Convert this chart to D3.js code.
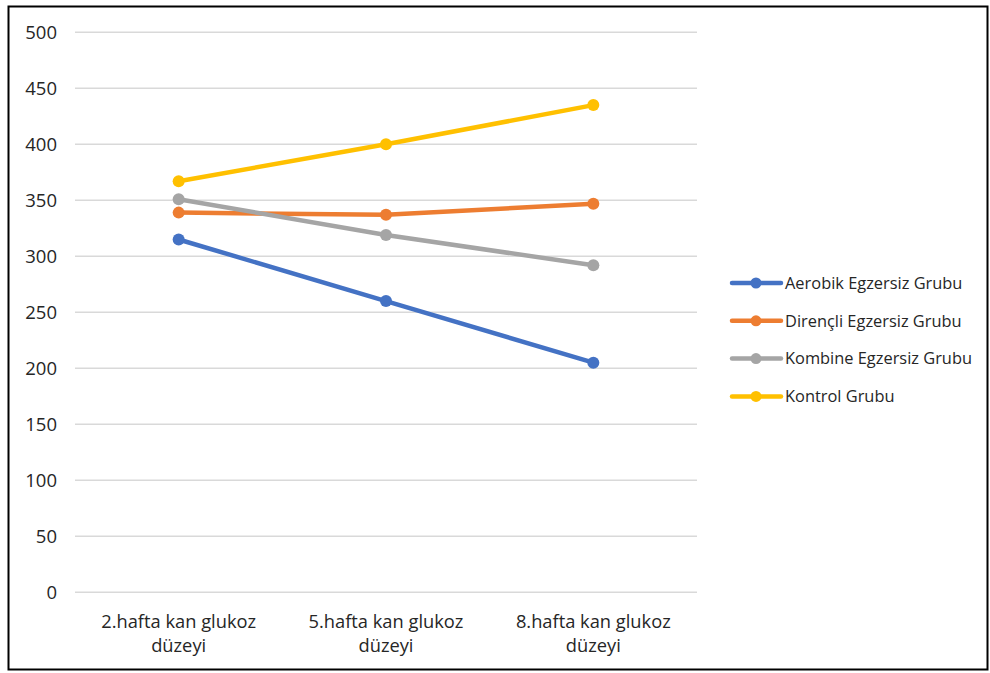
<!DOCTYPE html>
<html>
<head>
<meta charset="utf-8">
<script src="https://cdn.jsdelivr.net/npm/d3@7"></script>
<style>
  html, body { margin: 0; padding: 0; background: #fff; }
  svg { display: block; }
  text { font-family: "Open Sans", "Liberation Sans", sans-serif; fill: #262626; }
</style>
</head>
<body>
<svg id="chart" width="990" height="673"></svg>
<script>
// Blood glucose levels per week for each exercise group
const categories = ["2.hafta kan glukoz düzeyi", "5.hafta kan glukoz düzeyi", "8.hafta kan glukoz düzeyi"];
const categoryLines = [["2.hafta kan glukoz", "düzeyi"], ["5.hafta kan glukoz", "düzeyi"], ["8.hafta kan glukoz", "düzeyi"]];
const seriesNames = ["Aerobik Egzersiz Grubu", "Dirençli Egzersiz Grubu", "Kombine Egzersiz Grubu", "Kontrol Grubu"];
const aerobik = [315, 260, 205];
const direncli = [339, 337, 347];
const kombine = [351, 319, 292];
const kontrol = [367, 400, 435];
const yTicks = [0, 50, 100, 150, 200, 250, 300, 350, 400, 450, 500];
const colors = ["#4472C4", "#ED7D31", "#A5A5A5", "#FFC000"];

const seriesValues = [aerobik, direncli, kombine, kontrol];
const series = seriesNames.map((name, i) => ({ name, values: seriesValues[i], color: colors[i] }));

const svg = d3.select("#chart");

// outer frame
svg.append("rect")
  .attr("x", 8.5).attr("y", 6.5)
  .attr("width", 979).attr("height", 663)
  .attr("fill", "none").attr("stroke", "#000").attr("stroke-width", 2);

const plot = { left: 75, right: 697, top: 32.3, bottom: 592.3 };

const x = d3.scaleBand().domain(categories).range([plot.left, plot.right]);
const y = d3.scaleLinear().domain([0, 500]).range([plot.bottom, plot.top]);

// horizontal gridlines
svg.append("g")
  .selectAll("line")
  .data(yTicks)
  .join("line")
  .attr("x1", plot.left).attr("x2", plot.right)
  .attr("y1", d => y(d)).attr("y2", d => y(d))
  .attr("stroke", "#D9D9D9").attr("stroke-width", 1.5);

// y axis labels
const yAxis = d3.axisLeft(y).tickValues(yTicks).tickSize(0).tickPadding(0);
const yg = svg.append("g").attr("transform", "translate(57,0)").call(yAxis);
yg.select(".domain").remove();
yg.selectAll("text")
  .attr("font-size", 18.5)
  .attr("font-family", "Open Sans, sans-serif")
  .attr("fill", "#262626")
  .attr("dy", "0.35em");

// x axis category labels (two lines each)
const xg = svg.append("g");
categories.forEach((c, i) => {
  const t = xg.append("text")
    .attr("x", x(c) + x.bandwidth() / 2)
    .attr("y", 628)
    .attr("text-anchor", "middle")
    .attr("font-size", 18.3);
  categoryLines[i].forEach((ln, j) => {
    t.append("tspan")
      .attr("x", x(c) + x.bandwidth() / 2)
      .attr("dy", j === 0 ? 0 : 24)
      .text(ln);
  });
});

// series lines and markers
const line = d3.line()
  .x((d, i) => x(categories[i]) + x.bandwidth() / 2)
  .y(d => y(d));

const sg = svg.append("g");
series.forEach(s => {
  const g = sg.append("g");
  g.append("path")
    .attr("d", line(s.values))
    .attr("fill", "none")
    .attr("stroke", s.color)
    .attr("stroke-width", 4.5)
    .attr("stroke-linejoin", "round")
    .attr("stroke-linecap", "round");
  g.selectAll("circle")
    .data(s.values)
    .join("circle")
    .attr("cx", (d, i) => x(categories[i]) + x.bandwidth() / 2)
    .attr("cy", d => y(d))
    .attr("r", 6)
    .attr("fill", s.color);
});

// legend
const legend = svg.append("g");
series.forEach((s, i) => {
  const ly = 283 + i * 37.8;
  legend.append("line")
    .attr("x1", 732).attr("x2", 781)
    .attr("y1", ly).attr("y2", ly)
    .attr("stroke", s.color).attr("stroke-width", 4.5)
    .attr("stroke-linecap", "round");
  legend.append("circle")
    .attr("cx", 756).attr("cy", ly).attr("r", 5.5).attr("fill", s.color);
  legend.append("text")
    .attr("x", 785).attr("y", ly)
    .attr("dy", "0.35em")
    .attr("font-size", 16.4)
    .text(s.name);
});
</script>
</body>
</html>
